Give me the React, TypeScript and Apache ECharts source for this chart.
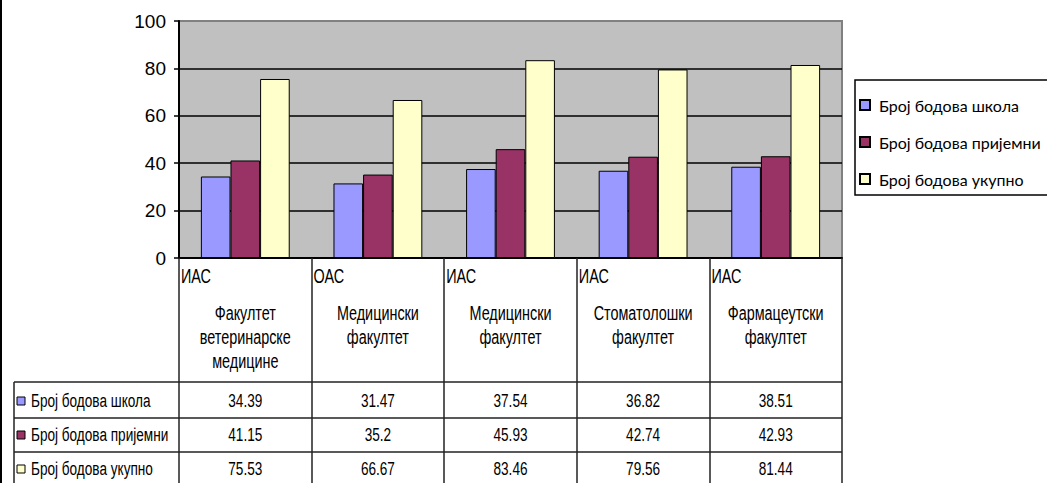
import React, { useEffect, useRef } from "react";
import * as echarts from "echarts";

// ---- data ----
const programs = ["ИАС", "ОАС", "ИАС", "ИАС", "ИАС"];
const facultyLines = [
  ["Факултет", "ветеринарске", "медицине"],
  ["Медицински", "факултет"],
  ["Медицински", "факултет"],
  ["Стоматолошки", "факултет"],
  ["Фармацеутски", "факултет"],
];
const categories = facultyLines.map((l, i) => programs[i] + " " + l.join(" "));
const seriesNames = ["Број бодова школа", "Број бодова пријемни", "Број бодова укупно"];
const school = [34.39, 31.47, 37.54, 36.82, 38.51];
const entrance = [41.15, 35.2, 45.93, 42.74, 42.93];
const total = [75.53, 66.67, 83.46, 79.56, 81.44];
const seriesValues = [school, entrance, total];
const yMin = 0;
const yMax = 100;
const yInterval = 20;
const colors = ["#9999FF", "#993366", "#FFFFCC"];

// ---- layout / style ----
const W = 1047;
const H = 483;
const SANS = "'Liberation Sans', Arial, sans-serif";
const LEGEND_FONT = "Lato, 'Liberation Sans', sans-serif";
const GRID = { left: 179, top: 21, right: 205, bottom: 225 };
const TABLE_LEFT = 14;
const HEADER_BOTTOM = 382;
const ROW_LINES = [382, 418, 452];
const ROW_CENTERS = [401, 435, 469];
const LINE_COLOR = "#222";
const SX = 0.8;
const SY = 1.12;

export default function App() {
  const ref = useRef<HTMLDivElement>(null);

  useEffect(() => {
    if (!ref.current) return;
    const chart = echarts.init(ref.current, undefined, { renderer: "svg" });
    const option: any = {
      animation: false,
      backgroundColor: "#fff",
      grid: {
        ...GRID,
        show: true,
        backgroundColor: "#C0C0C0",
        borderColor: "#808080",
        borderWidth: 2,
        containLabel: false,
      },
      legend: {
        orient: "vertical",
        left: 859,
        top: 95,
        padding: 0,
        itemWidth: 10,
        itemHeight: 10,
        itemGap: 17,
        icon: "rect",
        textStyle: {
          fontFamily: LEGEND_FONT,
          fontSize: 16,
          lineHeight: 20,
          color: "#000",
          padding: [0, 0, 0, 4],
        },
        data: seriesNames,
      },
      xAxis: {
        type: "category",
        data: categories,
        axisLine: { show: true, lineStyle: { color: "#000", width: 2 } },
        axisTick: {
          show: true,
          inside: false,
          interval: 0,
          length: 225,
          alignWithLabel: false,
          lineStyle: { color: LINE_COLOR, width: 1.5 },
        },
        axisLabel: { show: false, interval: 0 },
        splitLine: { show: false },
      },
      yAxis: {
        type: "value",
        min: yMin,
        max: yMax,
        interval: yInterval,
        axisLine: { show: true, lineStyle: { color: "#000", width: 2 } },
        axisTick: { show: true, inside: false, length: 5, lineStyle: { color: "#000", width: 1.5 } },
        axisLabel: {
          color: "#000",
          fontFamily: SANS,
          fontSize: 19,
          margin: 13,
        },
        splitLine: { show: true, showMaxLine: false, lineStyle: { color: "#000", width: 1.5 } },
      },
      series: seriesNames.map((name, i) => ({
        name,
        type: "bar",
        data: seriesValues[i],
        barGap: "0%",
        barCategoryGap: "33%",
        itemStyle: { color: colors[i], borderColor: "#000", borderWidth: 1 },
      })),
    };
    chart.setOption(option);

    const xs = categories.map((_, i) => chart.convertToPixel({ xAxisIndex: 0 }, i) as number);
    const band = xs.length > 1 ? xs[1] - xs[0] : 130;
    const tableRight = xs[xs.length - 1] + band / 2;
    const graphic: any[] = [];

    const txt = (text: string, x: number, y: number, align: string, size = 17) => ({
      type: "text",
      x,
      y,
      scaleX: SX,
      scaleY: SY,
      style: { text, fontFamily: SANS, fontSize: size, fill: "#000", textAlign: align, textVerticalAlign: "middle" },
    });

    // outer left border
    graphic.push({ type: "line", shape: { x1: 1, y1: 0, x2: 1, y2: H }, style: { stroke: "#000", lineWidth: 2 } });
    // legend box
    graphic.push({
      type: "rect",
      shape: { x: 855, y: 80, width: 220, height: 115 },
      style: { fill: "none", stroke: "#000", lineWidth: 1.5 },
      z: 0,
    });
    // table horizontal lines
    ROW_LINES.forEach((y) =>
      graphic.push({ type: "line", shape: { x1: TABLE_LEFT, y1: y, x2: tableRight, y2: y }, style: { stroke: LINE_COLOR, lineWidth: 1.5 } })
    );
    graphic.push({ type: "line", shape: { x1: TABLE_LEFT, y1: HEADER_BOTTOM, x2: TABLE_LEFT, y2: H }, style: { stroke: LINE_COLOR, lineWidth: 1.5 } });

    // header cells
    xs.forEach((cx, i) => {
      const left = cx - band / 2;
      graphic.push(txt(programs[i], left + 2, 276, "left", 18));
      facultyLines[i].forEach((line, k) => graphic.push(txt(line, cx, 313 + k * 24, "center", 18)));
    });

    // data rows
    seriesNames.forEach((name, r) => {
      const cy = ROW_CENTERS[r];
      graphic.push({
        type: "rect",
        shape: { x: 17, y: cy - 4, width: 8, height: 8 },
        style: { fill: colors[r], stroke: "#000", lineWidth: 1 },
      });
      graphic.push(txt(name, 31, cy, "left", 17));
      seriesValues[r].forEach((v, i) => graphic.push(txt(String(v), xs[i], cy, "center", 17)));
    });

    chart.setOption({ graphic });
    return () => chart.dispose();
  }, []);

  return <div ref={ref} style={{ position: "fixed", left: 0, top: 0, width: W, height: H }} />;
}
